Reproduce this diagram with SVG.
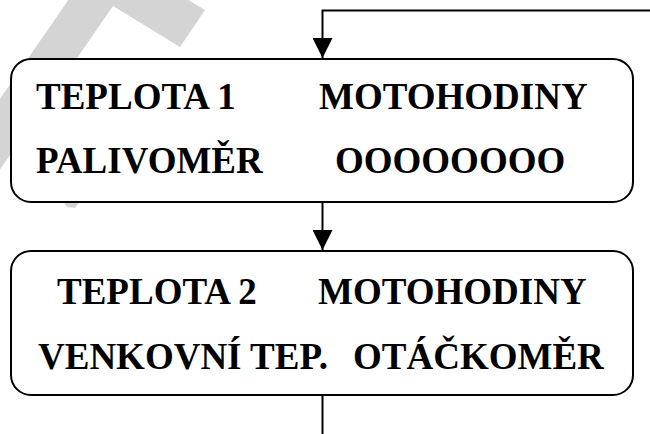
<svg xmlns="http://www.w3.org/2000/svg" width="650" height="434" viewBox="0 0 650 434">
<style>
.bg{fill:#ffffff}
.wm{fill:#d4d4d4}
.box{fill:#ffffff;stroke:#000;stroke-width:2}
.conn{fill:none;stroke:#000;stroke-width:2}
.t{font-family:"Liberation Serif","Times New Roman",serif;font-weight:bold;font-size:37px;fill:#000}
</style>
<defs>
<marker id="arr" markerUnits="userSpaceOnUse" markerWidth="20" markerHeight="20" refX="20" refY="10" orient="auto" viewBox="0 0 20 20">
<path d="M0,0 L20,10 L0,20 Z" fill="#000"/>
</marker>
</defs>
<rect class="bg" x="0" y="0" width="650" height="434"/>
<g id="watermark">
<polygon class="wm" points="103.7,-51 205,10 180,47 113,6 -30,213 -30,142"/>
<polygon class="wm" points="62,199 82,199 75,208 67,207"/>
</g>
<g id="node1">
<rect class="box" x="11" y="59" width="622" height="143" rx="20" ry="20"/>
<text class="t" x="36" y="109">TEPLOTA 1</text>
<text class="t" x="319" y="109">MOTOHODINY</text>
<text class="t" x="36" y="173">PALIVOMĚR</text>
<text class="t" x="335" y="173">OOOOOOOO</text>
</g>
<g id="node2">
<rect class="box" x="11" y="251" width="622" height="144" rx="20" ry="20"/>
<text class="t" x="57" y="304">TEPLOTA 2</text>
<text class="t" x="318" y="304">MOTOHODINY</text>
<text class="t" x="38" y="369">VENKOVNÍ TEP.</text>
<text class="t" x="353" y="369">OTÁČKOMĚR</text>
</g>
<g id="connectors">
<path class="conn" d="M650,10.5 L322.5,10.5 L322.5,58" marker-end="url(#arr)"/>
<path class="conn" d="M322.5,202 L322.5,250" marker-end="url(#arr)"/>
<path class="conn" d="M322.5,395 L322.5,434"/>
</g>
</svg>
